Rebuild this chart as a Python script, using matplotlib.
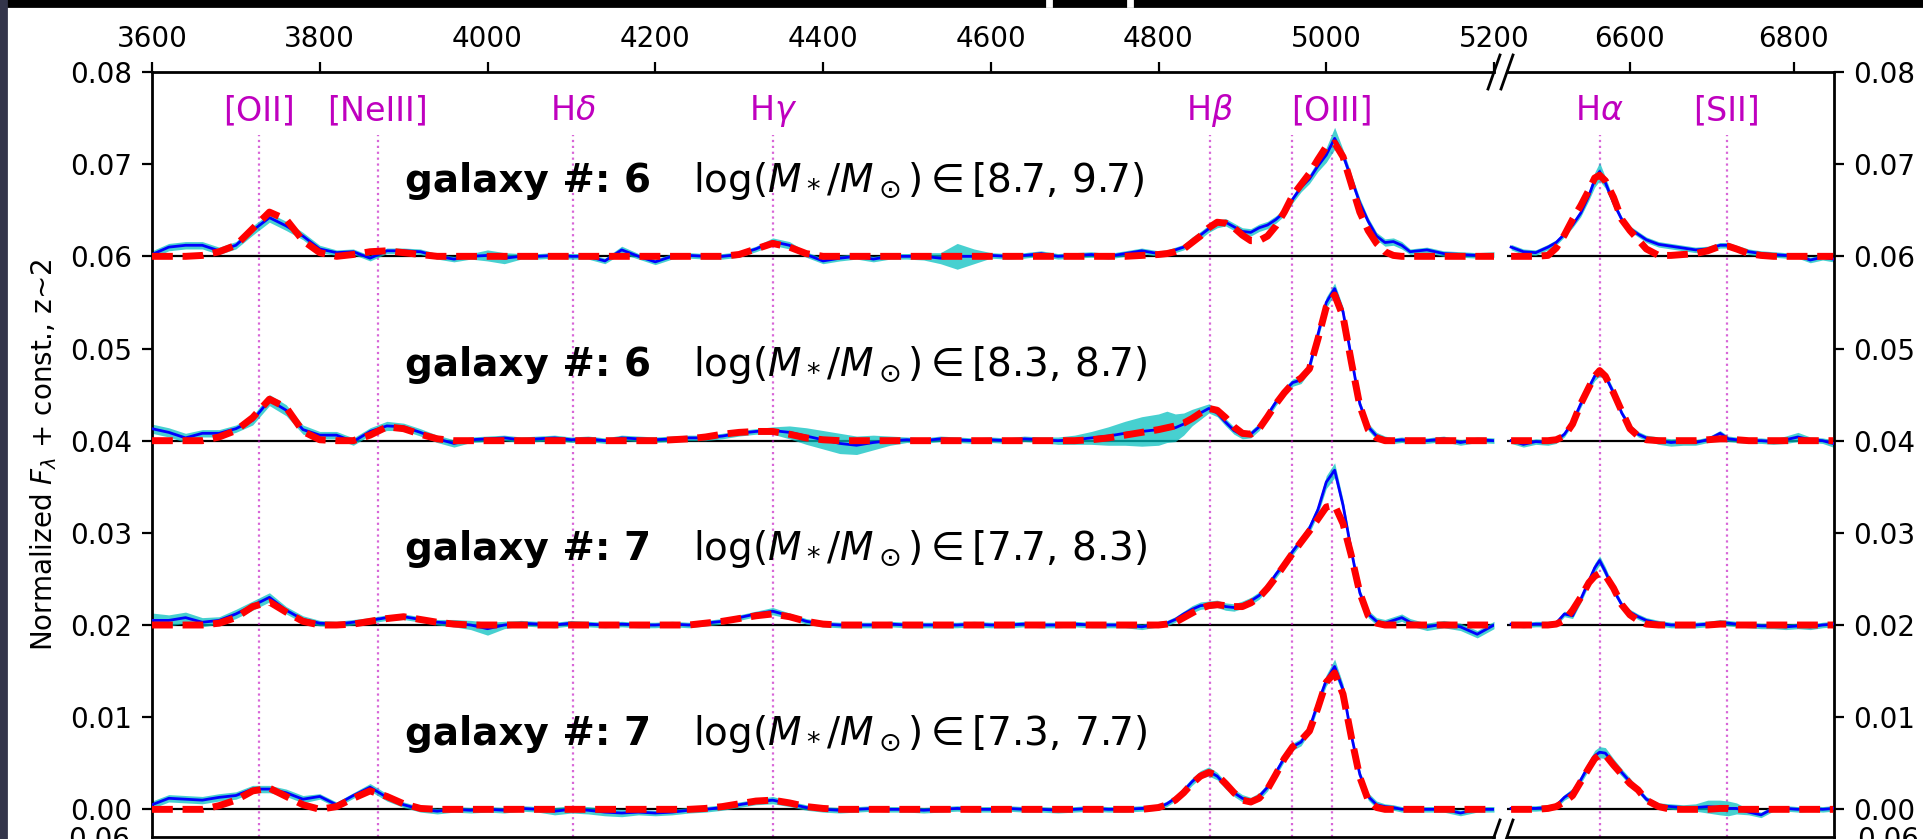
import matplotlib.pyplot as plt
import numpy as np
from matplotlib.patches import Rectangle
from matplotlib.ticker import FormatStrFormatter

# wavelength grids (Angstrom, rest frame)
wave_left = list(range(3600, 4800, 20)) + list(range(4800, 5101, 10)) + list(range(5120, 5201, 20))
wave_right = [6455, 6470, 6485, 6500, 6510, 6520, 6530, 6540, 6550, 6557,
              6563, 6570, 6580, 6590, 6600, 6610, 6620, 6635, 6650, 6665,
              6680, 6695, 6710, 6720, 6730, 6745, 6760, 6775, 6790, 6805,
              6820, 6835, 6848]

offsets = [0.06, 0.04, 0.02, 0.00]
galaxy_n = [6, 6, 7, 7]
mass_lo = [8.7, 8.3, 7.7, 7.3]
mass_hi = [9.7, 8.7, 8.3, 7.7]

# all spectra in units of 1e-4 above the offset
flux_l_1 = [2, 10, 12, 12, 6, 12, 28, 42, 33, 22,
            8, 4, 5, -2, 6, 6, 5, 0, -3, 0,
            1, -2, 0, 0, 1, 0, 0, -5, 7, 0,
            -6, 0, 1, 0, 0, 2, 8, 16, 12, 2,
            -5, -2, 0, -3, 0, 0, 0, -2, 0, 0,
            1, 0, 1, 3, 0, 1, 2, 0, 3, 6,
            3, 4, 7, 10, 17, 23, 30, 35, 37, 32,
            27, 26, 31, 34, 40, 48, 62, 75, 84, 98,
            110, 128, 110, 84, 58, 38, 22, 15, 16, 12,
            5,
            7, 3, 2, 1, 2]
model_l_1 = [0, 0, 0, 1, 5, 12, 30, 48, 40, 17,
             4, 0, 2, 5, 6, 4, 2, 0, 0, 0,
             0, 0, 0, 0, 0, 0, 0, 0, 0, 0,
             0, 0, 0, 0, 0, 2, 8, 14, 10, 3,
             0, 0, 0, 0, 0, 0, 0, 0, 0, 0,
             0, 0, 0, 0, 0, 0, 0, 0, 0, 1,
             2, 3, 5, 8, 15, 22, 31, 37, 36, 31,
             23, 17, 17, 22, 33, 48, 66, 78, 90, 105,
             119, 123, 108, 78, 48, 28, 14, 5, 1, 0,
             0,
             0, 0, 0, 0, 0]
err_l_1 = [4, 4, 4, 4, 4, 4, 5, 5, 5, 4,
           4, 3, 3, 3, 3, 3, 3, 3, 3, 3,
           6, 6, 3, 3, 3, 3, 3, 3, 4, 3,
           3, 3, 3, 3, 3, 3, 3, 4, 4, 3,
           3, 3, 3, 3, 3, 3, 4, 6, 14, 8,
           3, 3, 3, 3, 3, 3, 3, 3, 3, 3,
           3, 3, 3, 3, 4, 4, 4, 4, 4, 4,
           4, 4, 4, 4, 4, 4, 4, 5, 5, 6,
           8, 12, 6, 5, 5, 4, 4, 4, 4, 4,
           3,
           3, 3, 3, 3, 3]

flux_l_2 = [13, 9, 3, 8, 8, 13, 22, 44, 33, 12,
            6, 6, -1, 10, 16, 15, 9, 2, -3, 1,
            2, 3, 1, 2, 3, 1, 2, 0, 3, 2,
            1, 2, 3, 3, 5, 8, 10, 11, 9, 5,
            1, -3, -5, -2, 0, 1, 0, 2, 1, 0,
            1, 0, 2, 1, 0, 1, 3, 5, 8, 10,
            12, 15, 14, 18, 25, 30, 35, 30, 20, 11,
            6, 7, 15, 28, 42, 54, 63, 66, 80, 115,
            150, 165, 140, 90, 40, 15, 5, 2, 0, 1,
            0,
            0, 2, -2, 1, 0]
model_l_2 = [0, 0, 0, 0, 4, 11, 25, 45, 36, 10,
             1, 0, 0, 6, 15, 13, 7, 2, 0, 0,
             0, 0, 0, 0, 0, 0, 0, 0, 0, 0,
             0, 1, 2, 4, 7, 9, 10, 10, 7, 3,
             1, 0, 0, 0, 0, 0, 0, 0, 0, 0,
             0, 0, 0, 0, 0, 0, 1, 3, 6, 9,
             12, 14, 16, 19, 24, 30, 35, 33, 25, 15,
             8, 7, 13, 26, 40, 52, 62, 68, 78, 110,
             145, 158, 135, 85, 38, 12, 3, 0, 0, 0,
             0,
             0, 0, 0, 0, 0]
err_l_2 = [5, 5, 5, 4, 4, 4, 5, 6, 6, 5,
           4, 4, 4, 4, 5, 4, 4, 4, 4, 3,
           3, 3, 3, 3, 3, 3, 3, 3, 3, 3,
           3, 3, 3, 3, 3, 3, 3, 4, 7, 9,
           10, 11, 10, 8, 5, 3, 3, 3, 3, 3,
           3, 3, 3, 3, 4, 5, 7, 10, 13, 16,
           17, 17, 15, 12, 9, 7, 5, 4, 4, 4,
           4, 4, 4, 4, 4, 4, 4, 4, 5, 5,
           6, 6, 5, 5, 4, 4, 4, 3, 3, 3,
           3,
           3, 3, 3, 3, 3]

flux_l_3 = [5, 5, 8, 3, 5, 12, 21, 30, 16, 6,
            2, 1, 3, 5, 8, 9, 6, 3, 2, 0,
            -4, 0, 2, 1, 0, 2, 1, 0, 1, 0,
            0, 1, 0, 2, 4, 8, 12, 15, 10, 4,
            1, 0, 0, 0, 1, 0, 0, 0, 0, 1,
            0, 0, 1, 0, 0, 1, 0, 0, 0, -2,
            1, 2, 6, 12, 17, 21, 22, 23, 20, 19,
            22, 26, 32, 42, 55, 67, 80, 92, 105, 125,
            155, 168, 130, 80, 35, 12, 4, 2, 5, 8,
            3,
            -2, 1, -2, -10, 0]
model_l_3 = [0, 0, 0, 0, 2, 8, 20, 25, 14, 4,
             0, 0, 1, 4, 7, 9, 6, 3, 1, 0,
             0, 0, 0, 0, 0, 0, 0, 0, 0, 0,
             0, 0, 0, 2, 4, 7, 10, 12, 9, 4,
             1, 0, 0, 0, 0, 0, 0, 0, 0, 0,
             0, 0, 0, 0, 0, 0, 0, 0, 0, 0,
             0, 1, 3, 8, 13, 18, 21, 22, 21, 20,
             20, 24, 30, 40, 52, 65, 78, 90, 102, 115,
             128, 130, 110, 75, 35, 10, 2, 0, 0, 0,
             0,
             0, 0, 0, 0, 0]
err_l_3 = [8, 6, 6, 5, 4, 5, 5, 5, 4, 4,
           3, 3, 3, 3, 3, 3, 3, 3, 4, 5,
           7, 4, 3, 3, 3, 3, 3, 3, 3, 3,
           3, 3, 3, 3, 3, 3, 3, 4, 3, 3,
           3, 3, 3, 3, 3, 3, 3, 3, 3, 3,
           3, 3, 3, 3, 3, 3, 3, 3, 3, 3,
           3, 3, 3, 3, 4, 4, 4, 4, 4, 4,
           4, 4, 4, 4, 4, 4, 4, 4, 5, 5,
           7, 8, 6, 5, 4, 4, 4, 4, 4, 4,
           4,
           4, 4, 4, 4, 4]

flux_l_4 = [5, 12, 11, 10, 13, 15, 22, 22, 18, 11,
            14, 5, 15, 24, 13, 5, 0, -2, 0, -1,
            0, -1, 1, 0, -2, 0, -1, -3, -4, -3,
            -4, -3, -1, 0, 2, 5, 8, 10, 6, 2,
            0, -1, 0, 1, 0, 0, -1, 0, 1, 0,
            0, 1, 0, 0, -1, 0, 1, 0, 0, 1,
            2, 6, 12, 20, 30, 38, 41, 36, 26, 18,
            12, 9, 14, 24, 40, 56, 68, 73, 88, 115,
            140, 155, 130, 80, 38, 14, 5, 3, 2, 0,
            0,
            0, 0, -4, 0, 0]
model_l_4 = [0, 0, 0, 0, 4, 10, 20, 23, 14, 5,
             0, 3, 12, 20, 14, 6, 1, 0, 0, 0,
             0, 0, 0, 0, 0, 0, 0, 0, 0, 0,
             0, 0, 0, 1, 3, 6, 9, 10, 7, 3,
             1, 0, 0, 0, 0, 0, 0, 0, 0, 0,
             0, 0, 0, 0, 0, 0, 0, 0, 0, 0,
             2, 5, 10, 18, 28, 36, 40, 37, 28, 18,
             10, 8, 12, 22, 38, 55, 68, 75, 85, 110,
             138, 148, 125, 78, 35, 10, 2, 0, 0, 0,
             0,
             0, 0, 0, 0, 0]
err_l_4 = [4, 4, 4, 4, 4, 4, 4, 4, 4, 4,
           3, 3, 3, 4, 4, 3, 3, 3, 3, 3,
           3, 3, 3, 3, 4, 4, 4, 4, 4, 3,
           3, 3, 3, 3, 3, 3, 3, 4, 3, 3,
           3, 3, 3, 3, 3, 3, 3, 3, 3, 3,
           3, 3, 3, 3, 3, 3, 3, 3, 3, 3,
           3, 3, 3, 4, 4, 4, 5, 4, 4, 4,
           4, 4, 4, 4, 4, 4, 4, 4, 5, 5,
           6, 8, 6, 5, 4, 4, 4, 3, 3, 3,
           3,
           3, 3, 3, 3, 3]

flux_r_1 = [10, 5, 4, 10, 15, 24, 34, 47, 66, 83,
            92, 80, 58, 40, 30, 24, 18, 13, 11, 9,
            7, 8, 12, 12, 9, 5, 3, 2, 1, 1,
            -4, -1, -3]
model_r_1 = [0, 0, 0, 1, 9, 23, 40, 55, 72, 85,
             88, 82, 64, 40, 28, 18, 8, 1, 1, 2,
             3, 6, 11, 11, 8, 3, 1, 0, 0, 0,
             0, 0, 0]
err_r_1 = [3, 3, 3, 3, 3, 3, 3, 4, 5, 8,
           10, 6, 4, 3, 3, 3, 3, 3, 3, 3,
           3, 3, 3, 3, 3, 3, 3, 3, 3, 3,
           3, 3, 3]

flux_r_2 = [0, -4, -1, -2, 0, 7, 20, 40, 58, 70,
            75, 70, 52, 30, 15, 7, 3, 0, -2, -1,
            -2, 1, 8, 2, 1, 0, 0, -1, 1, 4,
            1, 0, -3]
model_r_2 = [0, 0, 0, 0, 1, 5, 18, 40, 58, 70,
             76, 70, 52, 32, 13, 5, 1, 0, 0, 0,
             0, 1, 2, 2, 1, 0, 0, 0, 0, 0,
             0, 0, 0]
err_r_2 = [3, 3, 3, 3, 3, 3, 3, 4, 4, 5,
           5, 4, 4, 3, 3, 3, 3, 4, 4, 4,
           3, 3, 3, 3, 3, 3, 3, 3, 4, 5,
           3, 3, 4]

flux_r_3 = [1, 0, 1, 1, 2, 12, 10, 28, 48, 62,
            70, 58, 38, 22, 14, 9, 5, 2, 0, 0,
            0, 1, 3, 2, 1, 0, -1, -1, -2, -1,
            -2, 0, 1]
model_r_3 = [0, 0, 0, 0, 1, 5, 16, 30, 46, 53,
             56, 54, 40, 22, 11, 5, 1, 0, 0, 0,
             0, 0, 1, 1, 0, 0, 0, 0, 0, 0,
             0, 0, 0]
err_r_3 = [3, 3, 3, 3, 3, 3, 3, 4, 4, 5,
           5, 5, 4, 3, 3, 3, 3, 3, 3, 3,
           3, 3, 3, 3, 3, 3, 3, 3, 3, 3,
           3, 3, 3]

flux_r_4 = [1, 1, 1, 2, 4, 13, 19, 32, 48, 58,
            62, 61, 50, 40, 30, 21, 11, 4, 3, 2,
            2, 3, 2, 1, 1, -3, -6, 1, 1, 0,
            1, 0, 1]
model_r_4 = [0, 0, 0, 1, 3, 8, 15, 30, 45, 55,
             59, 59, 48, 38, 28, 21, 10, 3, 0, 0,
             0, 0, 1, 1, 0, 0, 0, 0, 0, 0,
             0, 0, 0]
err_r_4 = [3, 3, 3, 3, 3, 3, 4, 4, 5, 6,
           6, 6, 5, 4, 4, 3, 3, 3, 3, 3,
           4, 7, 8, 8, 6, 3, 3, 3, 3, 3,
           3, 3, 3]

flux_left = [flux_l_1, flux_l_2, flux_l_3, flux_l_4]
model_left = [model_l_1, model_l_2, model_l_3, model_l_4]
err_left = [err_l_1, err_l_2, err_l_3, err_l_4]
flux_right = [flux_r_1, flux_r_2, flux_r_3, flux_r_4]
model_right = [model_r_1, model_r_2, model_r_3, model_r_4]
err_right = [err_r_1, err_r_2, err_r_3, err_r_4]

# emission lines
lines_left = [3727, 3869, 4102, 4340, 4861, 4959, 5007]
labels_left = ['[OII]', '[NeIII]', r'H$\delta$', r'H$\gamma$', r'H$\beta$', '', '[OIII]']
lines_right = [6563, 6718]
labels_right = [r'H$\alpha$', '[SII]']

W, H, DPI = 1924, 839, 200
fig = plt.figure(figsize=(W / DPI, H / DPI), dpi=DPI)
axL = fig.add_axes([152 / W, 2 / H, 1342 / W, 765 / H])
axR = fig.add_axes([1507 / W, 2 / H, 327 / W, 765 / H])

for i in range(4):
    off = offsets[i]
    for ax, w, f, m, e in [(axL, wave_left, flux_left[i], model_left[i], err_left[i]),
                           (axR, wave_right, flux_right[i], model_right[i], err_right[i])]:
        f = off + np.array(f) * 1e-4
        m = off + np.array(m) * 1e-4
        e = np.array(e) * 1e-4
        ax.axhline(off, color='k', lw=0.8, zorder=1)
        ax.fill_between(w, f - e, f + e, color='c', alpha=0.72, lw=0, zorder=2)
        ax.plot(w, f, color='b', lw=1.0, zorder=3)
        ax.plot(w, m, color='r', lw=2.5, ls=(0, (3.0, 1.4)), zorder=4)
    axL.text(3902, off + 0.0070, 'galaxy #: %d' % galaxy_n[i], fontsize=14,
             fontweight='bold', ha='left', va='baseline')
    axL.text(4245, off + 0.0070,
             r'$\log(M_*/M_\odot)\in[%.1f,\,%.1f)$' % (mass_lo[i], mass_hi[i]),
             fontsize=14, ha='left', va='baseline')

for ax, lines, labels in [(axL, lines_left, labels_left), (axR, lines_right, labels_right)]:
    for lam, lab in zip(lines, labels):
        ax.plot([lam, lam], [-0.003, 0.0732], color='m', ls=':', lw=0.8, alpha=0.6, zorder=1)
        if lab:
            ax.text(lam, 0.0758, lab, color='m', fontsize=12, ha='center', va='center')

for ax in (axL, axR):
    ax.set_ylim(-0.003, 0.08)
    ax.set_yticks(np.arange(0, 0.081, 0.01))
    ax.yaxis.set_major_formatter(FormatStrFormatter('%.2f'))
    ax.tick_params(axis='x', bottom=False, top=True, labelbottom=False, labeltop=True)
    for s in ax.spines.values():
        s.set_linewidth(1.0)

axL.set_xlim(3600, 5200)
axL.set_xticks(range(3600, 5201, 200))
axL.spines['right'].set_visible(False)
axL.set_ylabel(r'Normalized $F_\lambda$ + const., z~2', labelpad=4)

axR.set_xlim(6450, 6849)
axR.set_xticks([6600, 6800])
axR.spines['left'].set_visible(False)
axR.yaxis.tick_right()

# break marks
dy = 17 / 765
for ax, x0, dx in [(axL, 1, 6 / 1342), (axR, 0, 6 / 327)]:
    for y0 in (0, 1):
        ax.plot([x0 - dx, x0 + dx], [y0 - dy, y0 + dy], transform=ax.transAxes,
                color='k', lw=1.0, clip_on=False)

# next panel's tick labels peeking in at the bottom
fig.text(130 / W, 2 / H, '0.06', ha='right', va='center_baseline', fontsize=10)
fig.text(1857 / W, 2 / H, '0.06', ha='left', va='center_baseline', fontsize=10)

# screenshot frame
fig.patches.append(Rectangle((0, 1 - 6 / H), 1, 6 / H, transform=fig.transFigure,
                             color='black', zorder=5))
for gx in (1047, 1128):
    fig.patches.append(Rectangle((gx / W, 1 - 6 / H), 4 / W, 6 / H, transform=fig.transFigure,
                                 color='white', zorder=6))
fig.patches.append(Rectangle((0, 0), 6 / W, 1, transform=fig.transFigure,
                             color='#33354a', zorder=5))

fig.savefig('out.png', dpi=DPI)
